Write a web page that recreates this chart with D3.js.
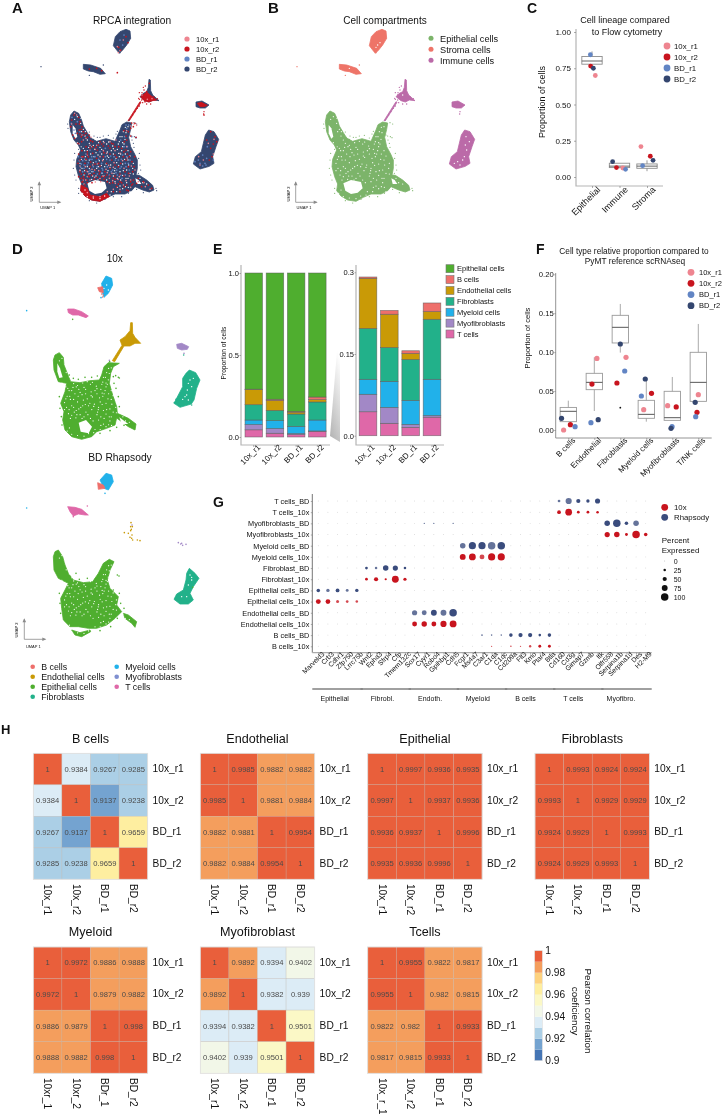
<!DOCTYPE html>
<html><head><meta charset="utf-8">
<script src="https://cdn.jsdelivr.net/npm/d3@7/dist/d3.min.js"></script>
<style>html,body{margin:0;background:#fff}svg{display:block;filter:blur(.35px)}text{font-family:"Liberation Sans",Arial,sans-serif;fill:#111}</style>
</head><body><svg id="c" width="724" height="1114" viewBox="0 0 724 1114"></svg>
<script>
// ---------- shared categories ----------
const replicates=["10x_r1","10x_r2","BD_r1","BD_r2"];
const repColor={"10x_r1":"#ee8590","10x_r2":"#c8141e","BD_r1":"#6285c4","BD_r2":"#34466f"};
const cellTypes=["Epithelial cells","B cells","Endothelial cells","Fibroblasts","Myeloid cells","Myofibroblasts","T cells"];
const typeColor={"Epithelial cells":"#4fae2f","B cells":"#ee6f6b","Endothelial cells":"#c99a06","Fibroblasts":"#22b18a","Myeloid cells":"#21b1ea","Myofibroblasts":"#a288c6","T cells":"#df68a8"};

const umapEpithelial=[[222,333],[236,340],[244,358],[250,378],[262,398],[272,414],[290,424],[318,416],[345,424],[352,408],[360,390],[366,374],[380,366],[395,369],[392,388],[386,412],[392,440],[404,462],[412,480],[412,505],[408,525],[418,526],[440,540],[458,556],[462,570],[448,576],[428,570],[405,560],[395,572],[375,582],[345,582],[322,592],[300,604],[275,600],[255,588],[242,572],[245,552],[236,530],[228,500],[230,478],[242,450],[235,435],[222,420],[212,395],[208,365],[212,345]];
const umapHoles=[[[262,550],[285,540],[315,546],[320,565],[305,578],[285,582],[268,572]],[[218,375],[226,385],[232,410],[226,416],[218,400]],[[406,535],[416,540],[424,552],[410,552]]];
const umapIslandTop=[[378,88],[390,93],[392,115],[380,135],[368,150],[358,160],[350,150],[340,137],[346,110],[360,95]];
const umapIslandLeft=[[250,193],[272,195],[302,205],[316,221],[300,223],[280,215],[265,213],[250,207]];
const umapEndothelial=[[447,238],[451,240],[452,272],[458,285],[477,302],[460,300],[448,306],[435,302],[420,290],[430,280],[440,275],[445,262]];
const umapStreak=[[384,362],[388,362],[423,307],[420,305]];
const umapMyofibro=[[588,306],[606,303],[627,315],[616,324],[600,324],[588,320]];
const umapFibro=[[626,390],[642,395],[656,418],[648,440],[638,470],[642,490],[628,499],[600,507],[580,492],[586,470],[604,455],[610,430],[616,405]];
const umapRedArc=[[243,555],[262,565],[270,585],[300,590],[320,580],[328,590],[300,604],[275,600],[255,588],[242,572]];
const umapEndoRed=[[422,290],[440,276],[450,285],[470,300],[458,302],[445,306],[430,300]];
const umapMyoRed=[[592,310],[604,307],[622,316],[612,320],[600,320]];
const umapStrayImm=[[612,335],[611,342],[418,318],[412,325],[405,335],[398,345],[425,300],[432,270],[426,278],[418,298],[425,285],[418,278],[430,262],[436,258],[462,290],[472,296],[440,312],[452,312],[428,308],[416,295]];
const umapStrayStroma=[[310,195],[356,154],[360,158],[123,200],[268,226],[362,152],[354,150]];
const umapStrayEpi=[[395,408],[403,410],[408,413],[390,405],[410,372],[402,368],[262,410],[270,412],[280,418],[255,425],[248,430],[262,430],[300,412],[310,408],[325,406],[340,414],[348,402],[352,394],[282,408],[292,412],[418,460],[416,475],[420,495],[422,510],[415,520],[400,430],[396,420],[402,442],[224,460],[222,480],[220,505],[224,525],[228,540],[236,565],[236,580],[268,602],[290,609],[315,598],[340,590],[365,590],[385,580],[410,568],[430,578],[468,565],[470,572],[388,360],[236,448],[246,440],[256,400],[268,396],[203,372],[204,385]];
const umapGaps=[[245,395],[255,408],[262,420],[268,430],[250,445],[262,452],[280,436],[300,442],[320,432],[338,438],[352,448],[372,432],[375,418],[378,398],[248,470],[258,480],[272,462],[288,458],[305,462],[322,456],[340,462],[358,470],[376,462],[384,480],[246,505],[262,500],[280,488],[298,482],[314,500],[332,495],[350,488],[368,492],[380,510],[252,525],[270,520],[288,528],[306,520],[324,512],[342,520],[360,515],[378,535],[258,540],[275,538],[345,545],[362,540],[380,548],[352,562],[368,566],[385,562],[334,575],[240,490],[296,500],[326,472],[284,510],[305,448],[366,410],[232,350],[242,370],[224,358],[420,535],[440,552],[428,548],[276,440],[355,432],[365,452],[345,505],[320,540],[300,535],[243,355],[250,388],[256,395],[232,428],[244,440],[254,452],[266,442],[284,448],[296,428],[310,424],[326,426],[340,446],[356,460],[368,440],[384,452],[390,468],[400,490],[244,478],[256,470],[268,480],[282,470],[294,465],[310,478],[322,468],[334,452],[348,475],[362,462],[374,478],[386,495],[398,505],[240,512],[254,512],[268,505],[276,515],[290,505],[304,496],[318,492],[330,502],[344,512],[356,496],[370,512],[390,520],[262,530],[278,528],[294,540],[312,528],[328,548],[340,528],[352,535],[368,526],[384,535],[400,522],[360,558],[376,560],[390,575],[350,575],[255,570],[248,580],[262,590],[280,594],[300,596],[314,588],[330,585],[360,410],[370,395],[384,380],[376,382],[358,425],[368,428]];
const umapRed=[[240,365],[246,380],[250,395],[258,400],[238,390],[232,400],[244,410],[268,405],[228,372],[236,352],[250,470],[262,455],[278,440],[295,435],[310,438],[330,445],[345,440],[365,445],[378,450],[388,470],[240,480],[255,490],[270,500],[285,510],[300,515],[320,525],[340,535],[360,545],[380,555],[392,545],[350,560],[330,550],[305,530],[275,525],[250,530],[240,515],[258,510],[290,475],[310,470],[335,480],[355,500],[375,515],[385,500],[370,470],[345,465],[320,490],[265,470],[296,490],[415,535],[430,545],[445,555],[455,565],[425,560],[410,550],[400,540],[395,555],[380,570],[360,575],[340,575],[246,546],[252,536],[262,548],[335,430],[300,425],[278,425],[380,420],[372,392],[395,369],[405,370],[392,408],[408,412],[352,218],[356,142],[362,150],[378,110],[384,128],[305,212],[290,205],[268,207],[632,395],[645,410],[650,425],[640,432],[620,420],[632,445],[636,470],[628,480],[612,345],[605,315],[448,250],[440,275],[428,292],[435,305],[236,530],[244,535],[248,545],[255,555],[260,540],[268,530],[276,548],[282,538],[292,532],[300,538],[312,538],[322,545],[338,548],[346,538],[355,552],[365,548],[372,560],[385,572],[398,552],[244,522],[254,520],[264,528],[282,520],[298,522],[314,530],[330,528],[345,528],[360,522],[372,528],[386,520],[398,515],[402,500],[396,485],[404,470],[392,455],[382,462],[372,455],[356,440],[340,432],[325,438],[305,432],[288,442],[270,445],[258,440],[246,452],[236,462],[234,490],[246,470],[258,478],[272,486],[285,492],[300,498],[315,515],[330,505],[345,495],[362,490],[378,480],[350,472],[330,462],[312,458],[292,450],[278,460],[262,462],[238,372],[244,388],[252,405],[262,412],[272,422],[240,402],[245,425],[234,430],[222,345],[215,360],[212,380],[218,405],[224,415],[400,380],[392,385],[385,395],[378,408],[373,425]];
const umapPink=[[355,158],[360,152],[352,140],[370,120],[262,465],[285,448],[310,452],[345,452],[360,460],[380,440],[240,498],[262,515],[278,495],[300,470],[318,508],[336,520],[358,530],[372,505],[388,528],[270,540],[252,552],[284,532],[302,545],[328,535],[346,550],[370,555],[392,562],[340,502],[320,460],[296,512],[426,285],[442,298],[432,270],[456,296],[625,430],[640,462],[610,480],[600,495],[596,470],[642,418],[238,432],[250,420],[224,340],[432,548],[450,568],[402,372],[410,376],[273,412],[240,510],[256,500],[276,508],[292,492],[308,482],[326,496],[342,488],[368,482],[382,474],[394,498],[405,510],[250,540],[266,522],[286,546],[308,528],[322,518],[338,542],[354,538],[378,542],[392,540],[300,590],[280,590],[262,578],[322,575],[340,568],[360,568],[436,560],[415,545],[246,405],[258,415],[215,372],[230,345],[392,378],[380,392],[348,420],[330,425],[312,428],[290,436],[270,436]];
const umapLight=[[235,470],[248,482],[242,502],[252,495],[265,488],[276,478],[270,510],[248,515],[292,500],[306,505],[320,478],[300,455],[316,445],[332,468],[346,480],[364,478],[360,505],[376,490],[338,510],[285,470],[270,450],[328,525],[352,525],[366,535],[385,490],[382,440],[374,410],[378,375],[240,395],[216,352],[222,390],[360,120],[372,105],[368,135],[600,490],[585,485],[608,498],[620,475],[622,440],[395,410],[408,413],[238,482],[244,492],[254,478],[262,495],[270,478],[280,500],[288,485],[244,472],[258,462],[275,470],[296,478],[305,490],[316,470],[330,480],[342,470],[355,480],[368,465],[380,470],[390,480],[308,510],[322,500],[350,510],[364,500],[378,500],[252,505],[266,515],[280,515],[292,522],[306,518],[334,515],[348,518],[362,525],[376,525],[388,510],[372,440],[362,420],[380,385],[386,375],[232,365],[214,370],[226,400],[640,480],[615,490],[595,480],[608,465],[618,495]];
// ---------- UMAP shapes (10x above, BD Rhapsody below) ----------
const tenxEpithelial=[[178,338],[190,352],[192,375],[200,395],[212,425],[240,428],[270,422],[298,420],[305,405],[312,380],[325,368],[358,370],[340,380],[332,400],[328,430],[338,465],[350,500],[352,520],[385,535],[408,552],[405,570],[385,560],[365,545],[350,534],[345,555],[320,565],[290,575],[275,590],[245,598],[215,590],[195,570],[188,540],[192,515],[182,490],[195,455],[200,430],[175,425],[162,390],[160,360],[165,345]];
const tenxHoles=[[[236,548],[258,540],[276,560],[266,580],[242,575]],[[172,370],[180,385],[188,412],[178,414],[172,395]],[[358,532],[372,542],[385,552],[365,552]]];
const tenxEndothelial=[[392,248],[397,248],[398,280],[405,292],[422,310],[405,310],[390,318],[372,318],[344,365],[337,362],[366,316],[360,300],[375,290],[390,272]];
const tenxMyeloid=[[318,108],[335,115],[338,135],[325,160],[312,172],[308,160],[305,130]];
const tenxB=[[293,143],[308,140],[310,158],[298,155]];
const tenxT=[[203,207],[222,207],[245,215],[265,228],[258,233],[235,225],[218,225],[205,218]];
const tenxMyofibro=[[530,313],[545,310],[566,320],[562,328],[545,330],[532,325]];
const tenxFibro=[[568,390],[587,398],[600,420],[590,445],[582,480],[574,492],[540,502],[522,490],[535,465],[548,440],[548,415],[558,400]];
const tenxStray={"Epithelial cells":[[340,410],[347,407],[355,412],[358,414],[329,365],[218,238],[208,405],[220,415],[235,418],[255,412],[275,412],[292,408],[178,470],[180,505],[184,530],[186,555],[355,470],[358,500],[348,445],[342,430],[300,580],[330,572],[350,562],[372,556]],"Myeloid cells":[[80,212],[303,173]],"B cells":[[305,162],[310,165],[308,171]],"Myofibroblasts":[[552,340],[328,361]],"Fibroblasts":[[523,488],[551,345],[528,478],[540,478],[575,495]]};
const bdEpithelial=[[175,930],[188,950],[195,975],[205,1000],[220,1020],[250,1028],[278,1025],[295,1000],[310,970],[328,958],[342,965],[330,990],[322,1020],[330,1045],[355,1070],[350,1095],[365,1115],[345,1135],[320,1155],[290,1165],[265,1165],[235,1160],[210,1160],[190,1140],[185,1105],[182,1075],[195,1050],[205,1030],[175,1015],[162,990],[160,950],[165,935]];
const bdArc=[[215,1170],[240,1178],[270,1170],[272,1175],[245,1190],[225,1185]];
const bdTail=[[370,1120],[385,1125],[410,1145],[405,1162],[395,1150],[375,1135]];
const bdFibro=[[568,985],[585,1000],[597,1015],[580,1040],[570,1060],[580,1080],[565,1092],[540,1092],[522,1078],[530,1062],[550,1050],[558,1020],[560,1000]];
const bdMyeloid=[[318,700],[335,705],[340,725],[325,750],[312,745],[300,720]];
const bdB=[[293,728],[310,735],[315,745],[295,748]];
const bdT=[[203,800],[225,802],[245,808],[265,825],[255,825],[235,822],[220,828],[210,815]];
const bdStray={"Epithelial cells":[[352,1005],[357,1008],[228,1000],[578,1042],[238,1018],[262,1015],[285,1018],[178,1060],[180,1090],[182,1120],[358,1060],[362,1090],[372,1105],[340,1050],[352,1135],[300,1172],[332,1160]],"Myeloid cells":[[80,804],[315,760]],"T cells":[[262,798],[220,830],[238,815],[232,808]],"Endothelial cells":[[393,848],[397,860],[392,872],[396,885],[385,880],[373,878],[398,900],[412,900],[420,902],[390,892],[395,895],[392,860],[394,868]],"Myofibroblasts":[[535,908],[542,912],[548,916],[558,913],[545,910],[396,855]]};

// ---------- C: flow cytometry ----------
const lineageCats=["Epithelial","Immune","Stroma"];
const lineageQ1=[.778,.065,.06],lineageMed=[.80,.075,.075],lineageQ3=[.831,.095,.09],lineageLow=[.778,.06,.04],lineageHigh=[.866,.095,.115];
const lineageValues={"10x_r1":[.70,.062,.21],"10x_r2":[.765,.065,.143],"BD_r1":[.843,.053,.078],"BD_r2":[.75,.106,.115]};
const lineageJitter={"10x_r1":[.12,.12,-.22],"10x_r2":[-.05,-.11,.12],"BD_r1":[-.06,.22,-.16],"BD_r2":[.05,-.25,.22]};
// ---------- E: stacks, bottom to top, epithelial is the remainder ----------
const stackOrder=["T cells","Myofibroblasts","Myeloid cells","Fibroblasts","Endothelial cells","B cells","Epithelial cells"];
const tCells=[.044,.0227,.0153,.034],myoCells=[.032,.0293,.0055,.003],myeCells=[.0275,.0478,.0441,.0665],fibCells=[.0935,.0622,.0751,.1102],endCells=[.092,.061,.011,.0141],bCells=[.0024,.007,.005,.0159];
// ---------- F: reference comparison ----------
const refCats=["B cells","Endothelial","Fibroblasts","Myeloid cells","Myofibroblasts","T/NK cells"];
const refQ1=[.0107,.0518,.1118,.015,.0124,.0368],refMed=[.024,.0612,.1319,.0201,.0158,.0612],refQ3=[.029,.0728,.1473,.0381,.0497,.0998],refLow=[.0107,.0244,.0994,.0107,.0124,.0368],refHigh=[.0377,.0933,.1619,.0677,.0681,.1362];
const refOutliers=[{cat:2,v:.0287}];
const refValues={"10x_r1":[0,.092,.0934,.0261,.0313,.0454],"10x_r2":[.0069,.059,.0604,.0471,.0296,.0227],"BD_r1":[.0043,.0094,.0758,.0437,.0043,.0171],"BD_r2":[.015,.0133,.1105,.0655,.0021,.0355]};
const refJitter={"10x_r1":[-.18,.1,.22,-.1,-.18,0],"10x_r2":[.08,-.09,-.13,.2,.15,-.05],"BD_r1":[.26,-.13,.17,-.19,-.01,-.1],"BD_r2":[-.26,.15,0,-.04,-.05,-.12]};
// ---------- G: dot plot ----------
const genes=["Marveld3","Crb3","Cdhr1","Zfp750","Lrrc75b","Wnt2","Epha3","Sfrp4","Cfp","Tmem132c","Sox17","Cyyr1","Robo4","Gpihbp1","Cdh5","Fcgr1","Ms4a7","C3ar1","C1qa","C1qc","Cd209a","Flt3","Kmo","Ptar4","Btla","Cd160","Cd3g","Gimap7","Gzmb","Itk","Olfr558","Serpina1b","Serpina1d","Des","H2-M9"];
const dotRows=["T cells_BD","T cells_10x","Myofibroblasts_BD","Myofibroblasts_10x","Myeloid cells_BD","Myeloid cells_10x","Fibroblast_BD","Fibroblast_10x","Epithelial cells_BD","Epithelial cells_10x","Endothelial cells_BD","Endothelial cells_10x","B cells_BD","B cells_10x"];
const percentExpressed={
"T cells_BD":{Cd160:27,Cd3g:80,Gimap7:50,Gzmb:37,Itk:64},
"T cells_10x":{Cd160:43,Cd3g:88,Gimap7:28,Gzmb:28,Itk:25},
"Myofibroblasts_BD":{Olfr558:70,Serpina1b:100,Serpina1d:40,Des:70,Cyyr1:4,Robo4:4,Cdh5:4},
"Myofibroblasts_10x":{Olfr558:65,Serpina1b:70,Serpina1d:30,Des:100,"H2-M9":40},
"Myeloid cells_BD":{Fcgr1:70,Ms4a7:95,C3ar1:95,C1qa:100,C1qc:100},
"Myeloid cells_10x":{Fcgr1:75,Ms4a7:90,C3ar1:60,C1qa:95,C1qc:95},
"Fibroblast_BD":{Wnt2:28,Epha3:25,Sfrp4:70,Cfp:65,Tmem132c:25},
"Fibroblast_10x":{Wnt2:28,Epha3:50,Sfrp4:20,Cfp:90,Tmem132c:35},
"Epithelial cells_BD":{Marveld3:40,Crb3:38,Cdhr1:45,Zfp750:30,Lrrc75b:38},
"Epithelial cells_10x":{Marveld3:60,Crb3:58,Cdhr1:32,Zfp750:28,Lrrc75b:25},
"Endothelial cells_BD":{Sox17:65,Cyyr1:60,Robo4:75,Gpihbp1:75,Cdh5:100},
"Endothelial cells_10x":{Sox17:60,Cyyr1:68,Robo4:60,Gpihbp1:80,Cdh5:90},
"B cells_BD":{C3ar1:12,C1qa:10,C1qc:10,Cd209a:40,Flt3:50,Kmo:50,Ptar4:25,Btla:40},
"B cells_10x":{C1qa:5,Cd209a:10,Flt3:6,Kmo:22,Ptar4:30,Btla:30}};
const mutedDots={"T cells_BD":["Cd3g","Cd160"],"Myofibroblasts_BD":["Des"],"Myeloid cells_BD":["Fcgr1","C1qa"],"Myeloid cells_10x":["C3ar1"],"Endothelial cells_BD":["Sox17","Cyyr1","Gpihbp1"],"Fibroblast_BD":["Epha3"],"Epithelial cells_BD":["Crb3","Zfp750"],"Epithelial cells_10x":["Cdhr1","Zfp750","Lrrc75b"],"B cells_10x":["Kmo","C1qa","Cd209a","Flt3"],"B cells_BD":["C3ar1","C1qa","C1qc"]};
const geneGroups=["Epithelial","Fibrobl.","Endoth.","Myeloid","B cells","T cells","Myofibro."];
const sizeLegend=[0,25,50,75,100];
// ---------- H: correlation heat maps ----------
const heatmaps=[
{title:"B cells",m:[[1,.9384,.9267,.9285],[.9384,1,.9137,.9238],[.9267,.9137,1,.9659],[.9285,.9238,.9659,1]]},
{title:"Endothelial",m:[[1,.9985,.9882,.9882],[.9985,1,.9881,.9884],[.9882,.9881,1,.9954],[.9882,.9884,.9954,1]]},
{title:"Epithelial",m:[[1,.9997,.9936,.9935],[.9997,1,.9937,.9936],[.9936,.9937,1,.9996],[.9935,.9936,.9996,1]]},
{title:"Fibroblasts",m:[[1,.9993,.9924,.9924],[.9993,1,.9929,.9929],[.9924,.9929,1,.9993],[.9924,.9929,.9993,1]]},
{title:"Myeloid",m:[[1,.9972,.9886,.9888],[.9972,1,.9879,.9882],[.9886,.9879,1,.998],[.9888,.9882,.998,1]],cols:["10xr_1","10xr_2","BDr_1","BD_r2"]},
{title:"Myofibroblast",m:[[1,.9892,.9394,.9402],[.9892,1,.9382,.939],[.9394,.9382,1,.9501],[.9402,.939,.9501,1]]},
{title:"Tcells",m:[[1,.9955,.9822,.9817],[.9955,1,.982,.9815],[.9822,.982,1,.9933],[.9817,.9815,.9933,1]],cols:["10x_r_1","10x_r2","BD_r1","BD_r2"]}];
const heatBins=[.91,.92,.93,.94,.95,.96,.97,.98,.99];
const heatColors=["#4575b4","#74a3d0","#abcfe6","#dcecf6","#f2f7e8","#fbf8c6","#feeea0","#fdd27f","#f49e5d","#e95f3b"];
const heatTicks=[1,.98,.96,.94,.92,.9];

// ================ drawing ================
const svg=d3.select("#c");
const txt=(g,x,y,s,size,o={})=>{const t=g.append("text").attr("x",x).attr("y",y).text(s).attr("font-size",size);
 if(o.anchor)t.attr("text-anchor",o.anchor); if(o.weight)t.attr("font-weight",o.weight); if(o.rotate!=null)t.attr("transform",`rotate(${o.rotate},${x},${y})`); if(o.fill)t.style("fill",o.fill); return t;};
[["A",12,13,15],["B",268,13,15],["C",527,13,14],["D",12,254,15],["E",213,254,14],["F",536,254,14],["G",213,507,14],["H",1,734,13]].forEach(d=>txt(svg,d[1],d[2],d[0],d[3],{weight:"bold"}));

function umapScales(xd,xr,yd,yr){return {x:d3.scaleLinear().domain(xd).range(xr),y:d3.scaleLinear().domain(yd).range(yr)};}
function blob(g,s,pts,color,sw=.8){const line=d3.line().x(d=>s.x(d[0])).y(d=>s.y(d[1])).curve(d3.curveLinearClosed);
 g.append("path").attr("d",line(pts)).attr("fill",color).attr("stroke",color).attr("stroke-width",sw).attr("stroke-linejoin","round");}
function spots(g,s,pts,color,r){g.append("g").selectAll("circle").data(pts).join("circle").attr("cx",d=>s.x(d[0])).attr("cy",d=>s.y(d[1])).attr("r",r).attr("fill",color);}
function umapAxes(g,cx,cy,up,right,lx,ly2,lx1,ly1){
 g.append("path").attr("d",`M${cx},${cy-up}V${cy}H${cx+right}`).attr("fill","none").attr("stroke","#8a8a8a").attr("stroke-width",.8);
 g.append("path").attr("d",`M${cx-1.8},${cy-up+3}L${cx},${cy-up-1}L${cx+1.8},${cy-up+3}Z`).attr("fill","#8a8a8a");
 g.append("path").attr("d",`M${cx+right-3},${cy-1.8}L${cx+right+1},${cy}L${cx+right-3},${cy+1.8}Z`).attr("fill","#8a8a8a");
 txt(g,lx,ly2,"UMAP 2",4,{anchor:"middle",rotate:-90}); txt(g,lx1,ly1,"UMAP 1",4,{anchor:"middle"});}
function dotLegend(g,x,tx,ys,labels,colors,r,size){labels.forEach((l,i)=>{g.append("circle").attr("cx",x).attr("cy",ys[i]).attr("r",r).attr("fill",colors[i]);txt(g,tx,ys[i]+size*.35,l,size);});}

// A
const gA=svg.append("g"), sA=umapScales([0,1086],[0,362],[0,630],[0,210]);
[umapEpithelial,umapIslandTop,umapIslandLeft,umapMyofibro,umapFibro,umapEndothelial].forEach(p=>blob(gA,sA,p,repColor.BD_r2));
blob(gA,sA,umapStreak,repColor["10x_r2"]);blob(gA,sA,umapRedArc,repColor["10x_r2"]);blob(gA,sA,umapEndoRed,repColor["10x_r2"]);blob(gA,sA,umapMyoRed,repColor["10x_r2"]);
umapHoles.forEach(p=>blob(gA,sA,p,"#fff",0));
spots(gA,sA,umapGaps,"#fff",.7);spots(gA,sA,umapStrayEpi,repColor.BD_r2,.6);spots(gA,sA,umapStrayStroma,repColor.BD_r2,.7);spots(gA,sA,umapStrayImm,repColor["10x_r2"],.7);
spots(gA,sA,umapLight,repColor.BD_r1,.85);spots(gA,sA,umapPink,repColor["10x_r1"],.8);spots(gA,sA,umapRed,repColor["10x_r2"],.85);
txt(gA,132,24,"RPCA integration",10.2,{anchor:"middle"});
dotLegend(gA,187,196,[39,49,59,69],replicates,replicates.map(r=>repColor[r]),2.6,7.6);
umapAxes(gA,39.3,202.3,20,21,33,194,47.7,209);
// B
const gB=svg.append("g"), sB=umapScales([0,1086],[256,618],[0,630],[0,210]);
const cEpi="#7cb46a",cStr="#ee7468",cImm="#bb6aa8";
blob(gB,sB,umapEpithelial,cEpi);umapHoles.forEach(p=>blob(gB,sB,p,"#fff",0));spots(gB,sB,umapGaps,"#fff",.6);spots(gB,sB,umapStrayEpi,cEpi,.6);
[umapIslandTop,umapIslandLeft].forEach(p=>blob(gB,sB,p,cStr));spots(gB,sB,umapStrayStroma,cStr,.7);
[umapEndothelial,umapStreak,umapMyofibro,umapFibro].forEach(p=>blob(gB,sB,p,cImm));spots(gB,sB,umapStrayImm,cImm,.7);
spots(gB,sB,[[372,128],[365,135],[360,142],[280,205],[640,425],[632,450],[620,480],[605,485],[625,470],[595,490],[440,285],[630,410],[628,435],[612,495]],"#fff",.7);
txt(gB,385,23.5,"Cell compartments",10,{anchor:"middle"});
dotLegend(gB,431,440,[38.3,49.3,60.3],["Epithelial cells","Stroma cells","Immune cells"],[cEpi,cStr,cImm],2.5,9.2);
umapAxes(gB,295.7,202.3,20,21,290,194,304,209);
// D
const gD=svg.append("g"), sD=umapScales([0,630],[0,210],[0,1320],[240,680]);
txt(gD,114.7,262.3,"10x",10,{anchor:"middle"});txt(gD,120,460.7,"BD Rhapsody",10.3,{anchor:"middle"});
const sGapTop=umapScales([123,655],[80/3,199],[90,605],[276,439]), sGapBot=umapScales([123,655],[80/3,199],[90,605],[473.3,636.3]);
const G=typeColor;
blob(gD,sD,tenxEpithelial,G["Epithelial cells"]);tenxHoles.forEach(p=>blob(gD,sD,p,"#fff",0));spots(gD,sGapTop,umapGaps,"#fff",.6);
blob(gD,sD,tenxEndothelial,G["Endothelial cells"]);blob(gD,sD,tenxMyeloid,G["Myeloid cells"]);blob(gD,sD,tenxB,G["B cells"]);blob(gD,sD,tenxT,G["T cells"]);blob(gD,sD,tenxMyofibro,G["Myofibroblasts"]);blob(gD,sD,tenxFibro,G["Fibroblasts"]);
Object.keys(tenxStray).forEach(k=>spots(gD,sD,tenxStray[k],G[k],.8));
spots(gD,sD,[[555,470],[565,480],[575,440],[562,450],[548,478],[560,465],[320,135],[325,150],[312,145],[570,420],[580,415],[565,430]],"#fff",.7);
blob(gD,sD,bdEpithelial,G["Epithelial cells"]);blob(gD,sD,bdArc,G["Epithelial cells"]);blob(gD,sD,bdTail,G["Epithelial cells"]);spots(gD,sGapBot,umapGaps,"#fff",.6);
blob(gD,sD,bdFibro,G["Fibroblasts"]);blob(gD,sD,bdMyeloid,G["Myeloid cells"]);blob(gD,sD,bdB,G["B cells"]);blob(gD,sD,bdT,G["T cells"]);
Object.keys(bdStray).forEach(k=>spots(gD,sD,bdStray[k],G[k],.8));
spots(gD,sD,[[570,1005],[575,1020],[565,1035],[575,1012],[560,1070],[545,1070]],"#fff",.7);
umapAxes(gD,24.3,639.3,20,21,18,630,33.3,647.5);
const legD=[["B cells",0,0],["Endothelial cells",0,1],["Epithelial cells",0,2],["Fibroblasts",0,3],["Myeloid cells",1,0],["Myofibroblasts",1,1],["T cells",1,2]];
const legDy=d3.scaleLinear().domain([0,3]).range([666.7,696.7]),legDx=d3.scalePoint().domain([0,1]).range([32.7,116.7]);
const legDColor={"Myofibroblasts":"#7f8fd0"};
legD.forEach(d=>{gD.append("circle").attr("cx",legDx(d[1])).attr("cy",legDy(d[2])).attr("r",2.3).attr("fill",legDColor[d[0]]||typeColor[d[0]]);txt(gD,legDx(d[1])+8.5,legDy(d[2])+3.1,d[0],8.8);});

function styleTicks(sel,size){sel.select(".domain").remove();sel.selectAll("line").attr("stroke","#777").attr("stroke-width",.6);sel.selectAll("text").attr("font-size",size);}
function rotLabels(sel,dx,dy){sel.selectAll("text").attr("transform","rotate(-45)").attr("text-anchor","end").attr("dx",dx).attr("dy",dy);}
function boxes(g,x,y,hw,q1,med,q3,lo,hi,stroke,medStroke,wStroke){q1.forEach((_,i)=>{
 g.append("line").attr("x1",x(i)).attr("x2",x(i)).attr("y1",y(hi[i])).attr("y2",y(q3[i])).attr("stroke",wStroke).attr("stroke-width",1);
 g.append("line").attr("x1",x(i)).attr("x2",x(i)).attr("y1",y(q1[i])).attr("y2",y(lo[i])).attr("stroke",wStroke).attr("stroke-width",1);
 g.append("rect").attr("x",x(i-hw)).attr("width",x(i+hw)-x(i-hw)).attr("y",y(q3[i])).attr("height",y(q1[i])-y(q3[i])).attr("fill","none").attr("stroke",stroke).attr("stroke-width",.9);
 g.append("line").attr("x1",x(i-hw)).attr("x2",x(i+hw)).attr("y1",y(med[i])).attr("y2",y(med[i])).attr("stroke",medStroke).attr("stroke-width",.9);});}

// C
const gC=svg.append("g"), xC=d3.scaleLinear().domain([0,2]).range([592,647]), yC=d3.scaleLinear().domain([0,1]).range([177,32]);
gC.append("path").attr("d","M576,29V186H663").attr("fill","none").attr("stroke","#b5b5b5").attr("stroke-width",1.2);
gC.append("g").attr("transform","translate(576,0)").call(d3.axisLeft(yC).tickValues([0,.25,.5,.75,1]).tickFormat(d3.format(".2f")).tickSize(2).tickPadding(3)).call(styleTicks,8);
gC.append("g").attr("transform","translate(0,186)").call(d3.axisBottom(xC).tickValues([0,1,2]).tickFormat(i=>lineageCats[i]).tickSize(2).tickPadding(3)).call(styleTicks,9).call(rotLabels,"3","4");
boxes(gC,xC,yC,.37,lineageQ1,lineageMed,lineageQ3,lineageLow,lineageHigh,"#8c8c8c","#555","#999");
replicates.forEach(r=>lineageCats.forEach((c,i)=>gC.append("circle").attr("cx",xC(i+lineageJitter[r][i])).attr("cy",yC(lineageValues[r][i])).attr("r",2.4).attr("fill",repColor[r])));
txt(gC,625,23,"Cell lineage compared",9,{anchor:"middle"});txt(gC,627,34.5,"to Flow cytometry",9,{anchor:"middle"});
txt(gC,545,102,"Proportion of cells",9,{anchor:"middle",rotate:-90});
dotLegend(gC,667,674,[46,57,68,79],replicates,replicates.map(r=>repColor[r]),3.4,7.8);

// E
const stackRows=replicates.map((r,i)=>{const o={rep:r,"T cells":tCells[i],"Myofibroblasts":myoCells[i],"Myeloid cells":myeCells[i],"Fibroblasts":fibCells[i],"Endothelial cells":endCells[i],"B cells":bCells[i]};
 o["Epithelial cells"]=1-d3.sum(stackOrder.slice(0,6),k=>o[k]);return o;});
const series=d3.stack().keys(stackOrder)(stackRows), seriesZoom=d3.stack().keys(stackOrder.slice(0,6))(stackRows);
const gE=svg.append("g");
function stackPanel(ser,x0,x1,xa,ya,axisEnd,vals,fmt){
 const x=d3.scaleBand().domain(replicates).range([x0,x1]).paddingInner(.175).paddingOuter(.0875);
 gE.append("g").selectAll("g").data(ser).join("g").attr("fill",d=>typeColor[d.key]).selectAll("rect").data(d=>d).join("rect")
  .attr("x",d=>x(d.data.rep)).attr("width",x.bandwidth()).attr("y",d=>ya(d[1])).attr("height",d=>ya(d[0])-ya(d[1])).attr("stroke","#5a5a5a").attr("stroke-opacity",.7).attr("stroke-width",.7);
 gE.append("path").attr("d",`M${xa},265V445H${axisEnd}`).attr("fill","none").attr("stroke","#b5b5b5").attr("stroke-width",1.2);
 gE.append("g").attr("transform",`translate(${xa},0)`).call(d3.axisLeft(ya).tickValues(vals).tickFormat(fmt).tickSize(1.5).tickPadding(.5)).call(styleTicks,7.5);
 gE.append("g").attr("transform","translate(0,445)").call(d3.axisBottom(x).tickSize(2).tickPadding(2)).call(styleTicks,8).call(rotLabels,"3","3");
}
const grad=svg.append("defs").append("linearGradient").attr("id","wedge").attr("x1",0).attr("y1",1).attr("x2",.2).attr("y2",.15);
grad.append("stop").attr("offset",0).attr("stop-color","#b0b0b0");grad.append("stop").attr("offset",1).attr("stop-color","#fff");
gE.append("path").attr("d","M330,436L340,315V442Z").attr("fill","url(#wedge)");
stackPanel(series,243.15,327.95,241,d3.scaleLinear().domain([0,1]).range([437,273]),330,[0,.5,1],d3.format(".1f"));
stackPanel(seriesZoom,357.33,442.67,356,d3.scaleLinear().domain([0,.3]).range([435.7,272.3]),444,[0,.15,.3],d=>d===.15?"0.15":d3.format(".1f")(d));
txt(gE,226,353,"Proportion of cells",6.6,{anchor:"middle",rotate:-90});
const legEy=d3.scalePoint().domain(cellTypes).range([268.7,334]);
cellTypes.forEach(t=>{gE.append("rect").attr("x",446).attr("y",legEy(t)-4).attr("width",8).attr("height",8).attr("fill",typeColor[t]).attr("stroke","#777").attr("stroke-width",.6);txt(gE,457,legEy(t)+2.7,t,7.5);});

// F
const gF=svg.append("g"), xF=d3.scaleLinear().domain([0,5]).range([568.3,698.3]), yF=d3.scaleLinear().domain([0,.2]).range([430,274.3]);
gF.append("path").attr("d","M555.7,273V438H711.7").attr("fill","none").attr("stroke","#888").attr("stroke-width",.9);
gF.append("g").attr("transform","translate(555.7,0)").call(d3.axisLeft(yF).tickValues([0,.05,.1,.15,.2]).tickFormat(d3.format(".2f")).tickSize(1.5).tickPadding(.5)).call(styleTicks,7.7);
gF.append("g").attr("transform","translate(0,438)").call(d3.axisBottom(xF).tickValues(d3.range(6)).tickFormat(i=>refCats[i]).tickSize(2).tickPadding(2)).call(styleTicks,8).call(rotLabels,"3","3");
boxes(gF,xF,yF,.314,refQ1,refMed,refQ3,refLow,refHigh,"#9a9a9a","#444","#aaa");
refOutliers.forEach(o=>gF.append("circle").attr("cx",xF(o.cat)).attr("cy",yF(o.v)).attr("r",.9).attr("fill","#111"));
replicates.forEach(r=>refCats.forEach((c,i)=>gF.append("circle").attr("cx",xF(i+refJitter[r][i])).attr("cy",yF(refValues[r][i])).attr("r",2.6).attr("fill",repColor[r])));
txt(gF,634,253.5,"Cell type relative proportion compared to",8.3,{anchor:"middle"});txt(gF,635,263.5,"PyMT reference  scRNAseq",8.3,{anchor:"middle"});
txt(gF,530,338,"Proportion of cells",7.6,{anchor:"middle",rotate:-90});
dotLegend(gF,691,699,[272.3,283.3,294.6,305.7],replicates,replicates.map(r=>repColor[r]),3.4,7.5);

// G
const gG=svg.append("g"), xG=d3.scalePoint().domain(genes).range([318.3,645.7]), yG=d3.scalePoint().domain(dotRows).range([501,646.3]);
const rG=d3.scaleLinear().domain([0,100]).range([.45,3.75]);
const cols={"10x":"#c8141e","BD":"#3a4c7d"};
gG.append("path").attr("d","M312.3,494V652.7").attr("fill","none").attr("stroke","#666").attr("stroke-width",.9);
gG.append("path").attr("d","M312.3,652.7H651.7").attr("fill","none").attr("stroke","#aaa").attr("stroke-width",1.2);
gG.append("g").attr("transform","translate(312.3,0)").call(d3.axisLeft(yG).tickSize(1.5).tickPadding(1.5)).call(styleTicks,7.3);
gG.append("g").attr("transform","translate(0,652.7)").call(d3.axisBottom(xG).tickSize(2).tickPadding(1.5)).call(styleTicks,6.8).call(rotLabels,"3","2");
const dots=dotRows.flatMap(row=>genes.map(g=>({row,g,p:percentExpressed[row][g]||0})));
gG.append("g").selectAll("circle").data(dots).join("circle").attr("cx",d=>xG(d.g)).attr("cy",d=>yG(d.row)).attr("r",d=>rG(d.p))
 .attr("fill",d=>d.p===0?"#b5b5b5":cols[d.row.endsWith("10x")?"10x":"BD"]).attr("fill-opacity",d=>d.p===0?.8:((mutedDots[d.row]||[]).includes(d.g)?.78:1));
dotLegend(gG,664.7,674,[507.3,517.3],["10x","Rhapsody"],[cols["10x"],cols.BD],3.4,7.8);
txt(gG,661.7,543,"Percent",8);txt(gG,661.7,553,"Expressed",8);
const ySize=d3.scalePoint().domain(sizeLegend).range([561,597]);
sizeLegend.forEach(s=>{gG.append("circle").attr("cx",664.7).attr("cy",ySize(s)).attr("r",rG(s)).attr("fill",s===0?"#999":"#111");txt(gG,673.7,ySize(s)+2.5,s,7);});
const grpX=d3.scalePoint().domain(geneGroups).range([334.7,621]);
geneGroups.forEach((n,i)=>{const a=xG(genes[i*5])-6,b=xG(genes[i*5+4])+6;
 gG.append("line").attr("x1",a).attr("x2",b).attr("y1",689).attr("y2",689).attr("stroke","#808080").attr("stroke-width",1.3);
 txt(gG,grpX(n),701,n,7,{anchor:"middle"});});

// H
const heatColor=d3.scaleThreshold().domain(heatBins).range(heatColors);
const heatX=[33.3,200.3,367.7,535], heatY=[[753.3,879.3],[947,1073.3]];
const gH=svg.append("g");
heatmaps.forEach((h,i)=>{const row=i<4?0:1,col=i<4?i:i-4,x0=heatX[col],[y0,y1]=heatY[row];
 const x=d3.scaleBand().domain(d3.range(4)).range([x0,x0+114.4]),y=d3.scaleBand().domain(d3.range(4)).range([y0,y1]);
 const g=gH.append("g");
 const cells=h.m.flatMap((r,a)=>r.map((v,b)=>({a,b,v})));
 g.selectAll("rect").data(cells).join("rect").attr("x",d=>x(d.b)).attr("y",d=>y(d.a)).attr("width",x.bandwidth()).attr("height",y.bandwidth()).attr("fill",d=>heatColor(d.v)).attr("stroke","#b9b0a8").attr("stroke-opacity",.55).attr("stroke-width",.5);
 g.append("rect").attr("x",x0).attr("y",y0).attr("width",114.4).attr("height",y1-y0).attr("fill","none").attr("stroke","#e4e4e4").attr("stroke-width",.8);
 g.selectAll("text.v").data(cells).join("text").attr("class","v").attr("x",d=>x(d.b)+x.bandwidth()/2).attr("y",d=>y(d.a)+y.bandwidth()/2+2.6).attr("text-anchor","middle").attr("font-size",7.6).style("fill","#4a4a4a").text(d=>d.v);
 txt(g,x0+57.2,y0-10.6,h.title,12.6,{anchor:"middle"});
 replicates.forEach((r,a)=>txt(g,x0+119.3,y(a)+y.bandwidth()/2+3,r,10.2));
 (h.cols||replicates).forEach((r,a)=>txt(g,x(a)+x.bandwidth()/2-3.5,y1+4.6,r,10.2,{rotate:90}));
});
const yLeg=d3.scaleLinear().domain([.9,1]).range([1060.7,950.7]);
const binEdges=[.9,...heatBins,1];
heatColors.forEach((c,i)=>gH.append("rect").attr("x",534.7).attr("width",7.6).attr("y",yLeg(binEdges[i+1])).attr("height",yLeg(binEdges[i])-yLeg(binEdges[i+1])).attr("fill",c));
gH.append("rect").attr("x",534.7).attr("y",950.7).attr("width",7.6).attr("height",110).attr("fill","none").attr("stroke","#ddd").attr("stroke-width",.6);
heatTicks.forEach(t=>txt(gH,545.3,yLeg(t)+3,t,10.2));
txt(gH,584.5,1011,"Pearson correlation",9.8,{anchor:"middle",rotate:90});
txt(gH,572,1011,"coeficiency",9.8,{anchor:"middle",rotate:90});
</script></body></html>
